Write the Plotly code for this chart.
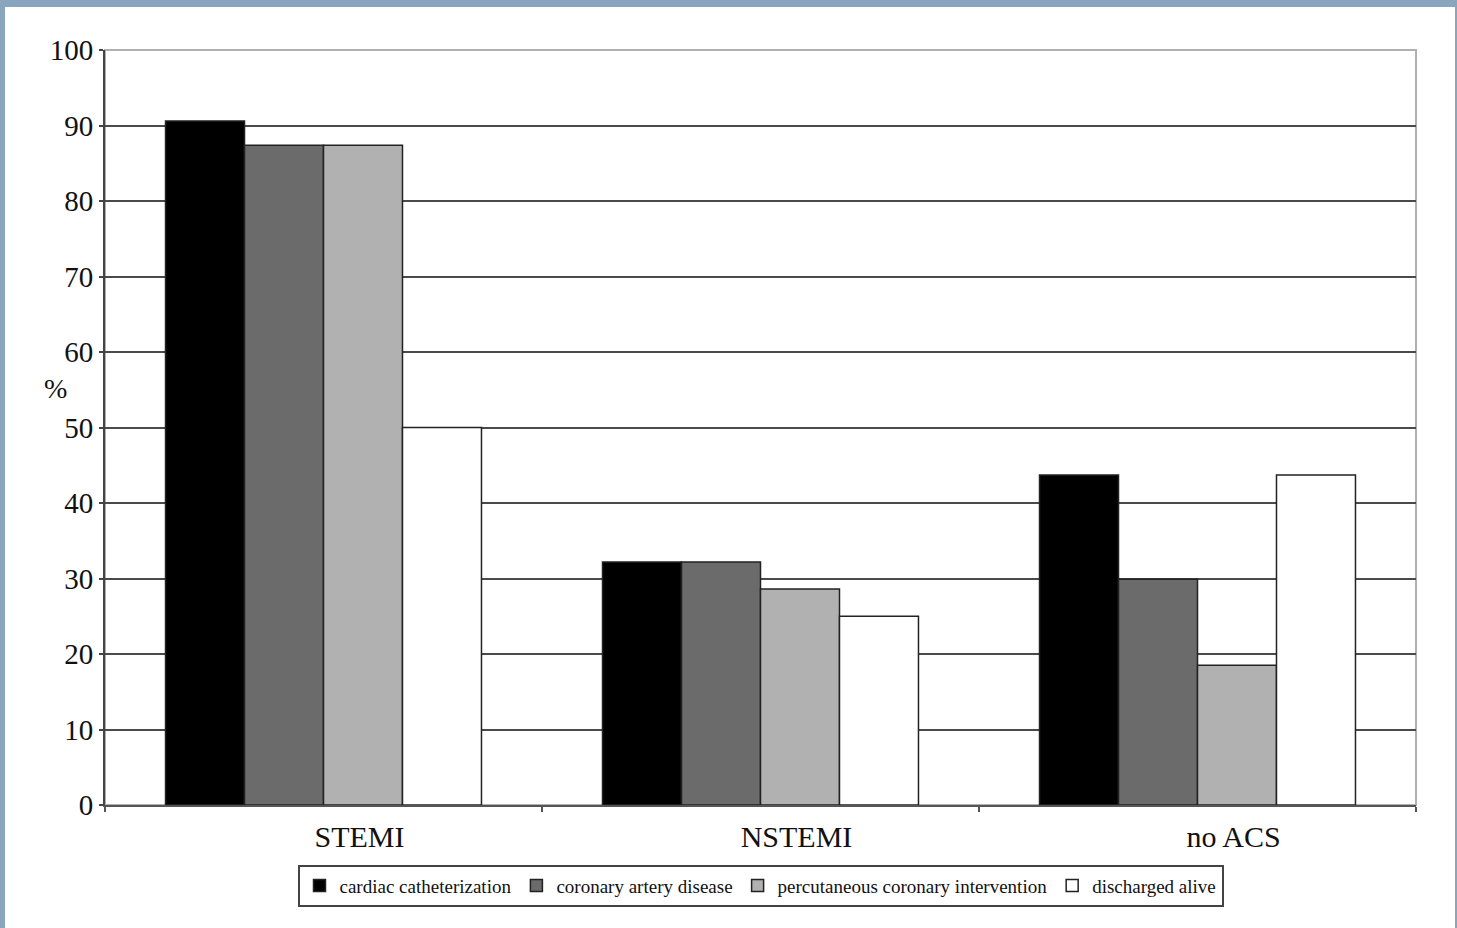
import plotly.graph_objects as go

categories = ["STEMI", "NSTEMI", "no ACS"]
series_names = ["cardiac catheterization", "coronary artery disease",
                "percutaneous coronary intervention", "discharged alive"]
cath = [90.6, 32.2, 43.7]
cad = [87.4, 32.2, 29.9]
pci = [87.4, 28.6, 18.5]
discharged = [50.0, 25.0, 43.7]
y_ticks = [0, 10, 20, 30, 40, 50, 60, 70, 80, 90, 100]

colors = ["#000000", "#6b6b6b", "#b1b1b1", "#ffffff"]
values = [cath, cad, pci, discharged]

FONT = "Liberation Serif"

fig = go.Figure()
for name, vals, col in zip(series_names, values, colors):
    fig.add_trace(go.Bar(
        x=categories, y=vals, name=name,
        marker=dict(color=col, line=dict(color="#222222", width=1.5)),
    ))

fig.update_layout(
    width=1457, height=928,
    barmode="group", bargap=0.277, bargroupgap=0,
    paper_bgcolor="#8aa5be", plot_bgcolor="#ffffff",
    margin=dict(l=105, r=41, t=50, b=123),
    font=dict(family=FONT, color="#111111"),
    showlegend=True,
    legend=dict(
        orientation="h", x=0.5, xanchor="center", y=-0.079, yanchor="top",
        font=dict(family=FONT, size=19, color="#111111"),
        bordercolor="#444444", borderwidth=2, bgcolor="#ffffff",
        itemwidth=30, tracegroupgap=0, traceorder="normal",
    ),
    shapes=[dict(
        type="rect", xref="paper", yref="paper",
        x0=(5 - 105) / 1311, x1=(1455 - 105) / 1311,
        y0=-0.2, y1=(805 - 7) / 755,
        fillcolor="#ffffff", line=dict(width=0), layer="below",
    )],
    annotations=[dict(
        text="%", xref="paper", yref="paper",
        x=(55 - 105) / 1311, y=(805 - 388) / 755,
        xanchor="center", yanchor="middle", showarrow=False,
        font=dict(family=FONT, size=28, color="#111111"),
    )],
)

fig.update_yaxes(
    range=[0, 100], tickvals=y_ticks, showgrid=True,
    gridcolor="#4a4a4a", gridwidth=2,
    showline=True, linecolor="#444444", linewidth=2,
    ticks="outside", ticklen=4, tickcolor="#444444", tickwidth=2,
    tickfont=dict(family=FONT, size=29, color="#111111"),
    zeroline=False, mirror=False,
)
fig.update_xaxes(
    showline=True, linecolor="#555555", linewidth=2,
    ticks="outside", tickson="boundaries", ticklen=5,
    tickcolor="#555555", tickwidth=2,
    tickfont=dict(family=FONT, size=30, color="#111111"),
    ticklabelshift=36, ticklabelstandoff=4,
)
# light top/right plot border
fig.add_shape(type="rect", xref="paper", yref="paper", x0=0, x1=1, y0=0, y1=1,
              line=dict(color="#b0b0b0", width=2), layer="below")

fig.write_html(
    "out.html",
    config={"displayModeBar": False},
    post_script="document.body.style.margin='0';document.body.style.overflow='hidden';",
)
